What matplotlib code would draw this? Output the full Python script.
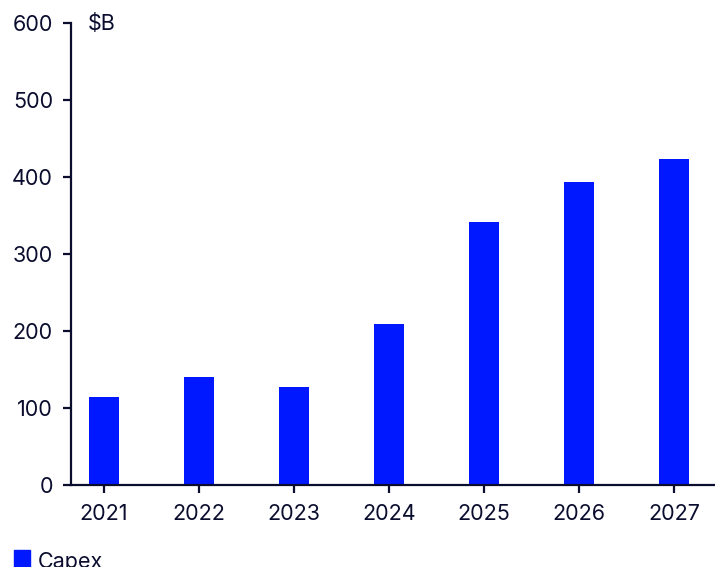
import matplotlib
matplotlib.use("Agg")
import matplotlib.pyplot as plt
from matplotlib.patches import Rectangle

years = ["2021", "2022", "2023", "2024", "2025", "2026", "2027"]
capex = [114, 140, 127, 209, 342, 393, 423]

navy = "#0b0d2e"
blue = "#0018ff"

plt.rcParams["font.family"] = ["Inter", "DejaVu Sans"]

fig = plt.figure(figsize=(7.15, 5.67), dpi=100)
ax = fig.add_axes([0.0993, 0.1446, 0.9007, 0.8148])

x = list(range(len(years)))
ax.bar(x, capex, width=0.316, color=blue)

ax.set_ylim(0, 600)
ax.set_xlim(-0.347, 6.43)
ax.set_yticks([0, 100, 200, 300, 400, 500, 600])
ax.set_xticks(x)
ax.set_xticklabels(years)

for s in ["top", "right"]:
    ax.spines[s].set_visible(False)
for s in ["left", "bottom"]:
    ax.spines[s].set_color(navy)
    ax.spines[s].set_linewidth(1.6)

ax.tick_params(axis="y", length=6, width=1.6, color=navy, labelcolor=navy, labelsize=15.5, pad=7)
ax.tick_params(axis="x", length=5.5, width=1.6, color=navy, labelcolor=navy, labelsize=15.5, pad=8)

ax.text(17 / 644, 0.997, "$B", transform=ax.transAxes, ha="left", va="center",
        fontsize=15.5, color=navy)

# legend at bottom left
fig.patches.append(Rectangle((14 / 715, 0), 16 / 715, 17 / 567,
                             transform=fig.transFigure, color=blue))
fig.text(38 / 715, 15 / 567, "Capex", ha="left", va="top", fontsize=15.5, color=navy)

fig.savefig("out.png", dpi=100)
